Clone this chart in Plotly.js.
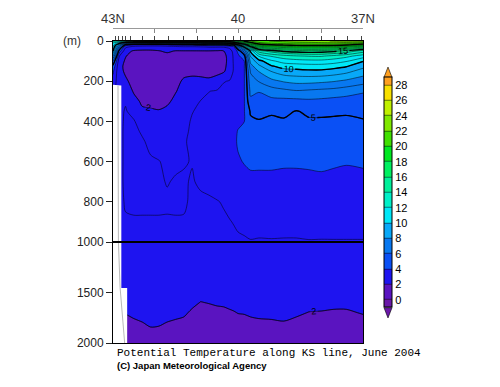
<!DOCTYPE html>
<html>
<head>
<meta charset="utf-8">
<script src="https://cdn.plot.ly/plotly-3.0.1.min.js"></script>
<style>html,body{margin:0;padding:0;background:#fff;}#chart{width:500px;height:387px;}</style>
</head>
<body>
<div id="chart"></div>
<script>
// ---- data ----
const lat = [43.0, 42.85, 42.7, 42.5, 42.3, 42.1, 41.9, 41.7, 41.5, 41.3, 41.1, 40.9, 40.7, 40.5, 40.35, 40.2, 40.1, 40.0, 39.85, 39.7, 39.5, 39.2, 38.9, 38.6, 38.3, 38.0, 37.7, 37.4, 37.0];
const depthUpper = [0, 10, 20, 30, 50, 75, 100, 125, 150, 200, 250, 300, 350, 400, 450, 500, 600, 700, 800, 900, 1000];
const depthLower = [1000, 1200, 1400, 1600, 1700, 1800, 1900, 2000];

const tempUpper = [
 [13.1,13.1,14.1,15.1,15.5,16.1,16.1,16.1,16.2,16.5,16.5,16.9,16.9,17.1,17.1,17.5,18.1,19.1,20.1,21.1,21.5,22.1,22.3,22.5,22.6,22.8,23.1,23.1,23.1],
 [12,10.5,8.1,7.1,7.05,7.5,7.5,8.1,8.5,9.1,9.1,9.5,10.1,10.1,10.2,11.1,13.1,15.1,17.1,19.5,20.8,21.2,21.4,21.6,21.7,21.8,21.8,21.6,21.1],
 [11.5,8.1,4.5,3.8,3.6,3.5,3.5,3.6,3.8,4.1,4.1,4.2,4.5,4.5,4.5,5.2,5.1,9.5,13.1,17.1,19.1,19.8,20.05,20.3,20.4,20.4,20.3,20.05,19.2],
 [11,6.5,3.2,2.6,2.5,2.5,2.5,2.6,2.7,2.8,2.8,2.9,3.05,3.05,3.05,3.3,3.8,6.5,10.1,14.5,17.1,18.1,18.4,18.7,18.8,18.8,18.6,18.1,17.1],
 [10.1,4.5,2.3,1.9,1.85,1.85,1.95,2.15,1.95,1.95,1.95,1.95,1.95,1.9,1.95,2.5,3.4,4.2,6.5,10.2,13.5,14.5,15.2,15.5,15.7,15.6,15.3,14.7,13.5],
 [8,3.05,2.05,1.6,1.5,1.55,1.6,1.7,1.7,1.7,1.7,1.7,1.7,1.65,1.75,2.3,3.2,3.8,4.6,9.1,11.1,12.1,12.6,12.9,13.05,13.1,12.7,12.3,11.5],
 [6,2.4,1.9,1.5,1.45,1.5,1.55,1.6,1.65,1.65,1.65,1.6,1.6,1.6,1.7,2.3,3.15,3.6,3.98,8.3,9.6,10.8,11.4,11.6,11.7,11.7,11.5,11.1,10.05],
 [4.8,2.2,1.85,1.5,1.45,1.5,1.6,1.7,1.7,1.7,1.7,1.65,1.65,1.65,1.75,2.35,3.1,3.55,3.95,7.6,8.8,9.9,10.4,10.5,10.6,10.6,10.4,10.1,9.3],
 [4.2,2.2,1.9,1.55,1.5,1.5,1.6,1.95,1.75,1.8,1.85,1.75,1.8,1.8,1.85,2.5,3.1,3.5,3.95,7.1,8.05,9.05,9.6,9.7,9.8,9.8,9.6,9.3,8.6],
 [3.6,2.4,2.1,1.8,1.6,1.6,1.6,1.65,1.8,2.1,2.15,2.2,2.1,2.3,2.95,3.05,3.3,3.6,3.95,6.6,7.05,7.7,8.1,8.3,8.3,8.2,8.05,7.8,7.4],
 [3.1,2.8,2.6,1.9,1.7,1.65,1.65,1.7,1.95,2.3,2.7,2.8,2.98,3.1,3.2,3.3,3.45,3.65,3.95,6.2,6.05,6.5,6.7,6.9,6.8,6.7,6.6,6.4,6.1],
 [2.9,2.85,2.95,2.3,1.85,1.8,1.75,1.85,2.2,2.6,2.9,3.01,3.15,3.25,3.35,3.45,3.55,3.7,3.95,5.8,5.6,5.7,5.7,5.7,5.8,5.75,5.65,5.6,5.55],
 [2.85,2.85,3.05,2.8,2.15,2.1,2.05,2.2,2.4,2.75,2.98,3.1,3.2,3.3,3.4,3.5,3.6,3.72,3.96,5.1,5.2,5.1,5.2,4.95,5.15,5.15,5.1,5.1,5.15],
 [2.85,2.85,3.08,3.05,2.7,2.5,2.4,2.45,2.55,2.85,3.05,3.15,3.25,3.3,3.4,3.55,3.65,3.8,3.98,4.85,4.95,4.85,4.9,4.8,4.9,4.9,4.9,4.85,4.95],
 [2.85,2.85,3.1,3.1,2.95,2.75,2.6,2.6,2.65,2.9,3.08,3.15,3.25,3.3,3.45,3.6,3.75,4.05,4.3,4.7,4.75,4.7,4.7,4.65,4.7,4.72,4.7,4.7,4.75],
 [2.85,2.85,3.1,3.15,3.05,2.9,2.75,2.7,2.75,2.95,3.1,3.15,3.25,3.3,3.45,3.6,3.8,4.1,4.4,4.55,4.6,4.55,4.5,4.5,4.55,4.55,4.55,4.5,4.55],
 [2.85,2.85,3.1,3.15,3.12,3.05,3.02,2.9,2.9,2.97,3.02,3.12,3.2,3.25,3.35,3.5,3.65,3.9,4.05,4.15,4.15,4.15,4.1,4.1,4.12,4.15,4.1,4.05,4.1],
 [2.85,2.85,3.1,3.15,3.12,3.1,3.08,2.97,3.05,3.05,2.96,3.08,3.12,3.2,3.25,3.35,3.45,3.6,3.7,3.8,3.8,3.8,3.8,3.8,3.82,3.85,3.8,3.78,3.8],
 [2.85,2.85,3.05,3.1,3.1,3.1,3.1,3.08,3.1,3.08,2.9,2.9,2.94,2.98,3.03,3.12,3.2,3.3,3.4,3.5,3.5,3.5,3.5,3.5,3.52,3.55,3.5,3.5,3.5],
 [2.85,2.85,2.95,2.95,2.95,2.95,2.95,2.95,2.95,2.95,2.9,2.88,2.9,2.92,2.94,2.98,3.02,3.08,3.15,3.2,3.2,3.2,3.2,3.2,3.22,3.25,3.2,3.2,3.2],
 [2.85,2.85,2.9,2.9,2.9,2.9,2.9,2.9,2.9,2.9,2.88,2.88,2.88,2.88,2.89,2.9,2.9,2.92,2.93,2.97,2.95,2.96,2.95,2.95,2.97,2.96,2.97,2.97,2.97]
];

const tempLower = [
 [2.9,2.9,2.9,2.9,2.9,2.9,2.9,2.9,2.9,2.9,2.88,2.88,2.88,2.88,2.89,2.9,2.9,2.92,2.93,2.95,2.95,2.95,2.95,2.95,2.95,2.95,2.95,2.95,2.95],
 [2.62,2.62,2.62,2.67,2.72,2.77,2.76,2.72,2.68,2.65,2.55,2.47,2.49,2.52,2.53,2.56,2.58,2.61,2.62,2.65,2.67,2.68,2.70,2.65,2.59,2.58,2.56,2.56,2.62],
 [2.38,2.38,2.38,2.43,2.48,2.53,2.52,2.48,2.44,2.41,2.31,2.23,2.25,2.28,2.29,2.32,2.34,2.37,2.38,2.41,2.43,2.44,2.46,2.41,2.35,2.34,2.32,2.32,2.38],
 [2.14,2.14,2.14,2.19,2.24,2.29,2.28,2.24,2.20,2.17,2.07,1.99,2.01,2.04,2.05,2.08,2.10,2.12,2.14,2.17,2.19,2.20,2.22,2.17,2.11,2.10,2.08,2.08,2.13],
 [2.02,2.02,2.02,2.07,2.12,2.17,2.16,2.12,2.08,2.05,1.95,1.89,1.91,1.92,1.93,1.96,1.98,2.01,2.02,2.05,2.07,2.08,2.10,2.05,1.99,1.98,1.96,1.96,2.02],
 [1.90,1.90,1.90,1.95,1.99,2.05,2.04,1.99,1.96,1.93,1.83,1.77,1.79,1.80,1.81,1.84,1.86,1.89,1.90,1.93,1.95,1.96,1.98,1.93,1.87,1.86,1.84,1.84,1.90],
 [1.78,1.78,1.78,1.83,1.88,1.93,1.92,1.88,1.84,1.81,1.71,1.65,1.67,1.68,1.69,1.72,1.74,1.77,1.78,1.81,1.83,1.84,1.86,1.81,1.75,1.74,1.72,1.72,1.78],
 [1.66,1.66,1.66,1.71,1.76,1.81,1.80,1.76,1.72,1.69,1.59,1.53,1.55,1.56,1.57,1.60,1.62,1.65,1.66,1.69,1.71,1.72,1.74,1.69,1.63,1.62,1.60,1.60,1.66]
];

// observation stations (top tick marks)
const stations = [42.95, 42.86, 42.78, 42.69, 42.57, 42.3, 42.0, 41.66, 41.32, 40.98, 40.62, 40.31, 40.12, 39.95, 39.67, 39.31, 39.0, 38.69, 38.35, 38.0, 37.68, 37.37, 37.03];
const latTicks = [43, 42, 41, 40, 39, 38, 37];
const latTickText = ['43N', '', '', '40', '', '', '37N'];
const depthTicksUpper = [0, 200, 400, 600, 800];
const depthTicksLower = [1000, 1500, 2000];
const cbTicks = [0, 2, 4, 6, 8, 10, 12, 14, 16, 18, 20, 22, 24, 26, 28];
// no-data area (below the shelf at the northern end) and bottom line
const maskUpperLat = [43.0, 42.8, 42.8, 43.0];
const maskUpperDepth = [218, 222, 1000, 1000];
const maskLowerLat = [43.0, 42.8, 42.8, 42.66, 42.66, 43.0];
const maskLowerDepth = [1000, 1000, 1455, 1455, 2000, 2000];
const bottomLatUpper = [42.88, 42.87];
const bottomDepthUpper = [222, 1000];
const bottomLatLower = [42.87, 42.83, 42.72];
const bottomDepthLower = [1000, 1450, 2000];

// band colours: 0-2, 2-4, ... 26-28; plus the colours of the two end arrows
const bandColors = ['#5a14c0','#1e14f0','#0a50f5','#0878f0','#08a8f8','#00e8f8','#00f0c8','#00f09a','#00f060','#00e820','#40e000','#80e800','#c0f000','#f8e000'];
const belowColor = '#6a18a8';
const aboveColor = '#ffa020';

// ---- build ----
const scaleColors = [belowColor].concat(bandColors, [aboveColor]);
const colorscale = scaleColors.map((c, i) => [i / (scaleColors.length - 1), c]);
const fillContours = {start: 0, end: 28, size: 2, coloring: 'fill', showlines: true};
const lineStyle = {color: 'black', width: 0.5, smoothing: 0.8};
const labelFont = {size: 9, color: 'black', family: 'Liberation Sans, Arial'};

function sectionTraces(z, depth, xa, ya, withBar, labelMajor) {
  const t = [];
  t.push({
    type: 'contour', x: lat, y: depth, z: z, xaxis: xa, yaxis: ya,
    autocontour: false, contours: fillContours, colorscale: colorscale,
    line: lineStyle, showscale: withBar, hoverinfo: 'skip',
    colorbar: withBar ? {
      x: 1.084, xanchor: 'left', xpad: 0, y: 0.4778, yanchor: 'middle', ypad: 0,
      lenmode: 'pixels', len: 230.4, thickness: 8, outlinewidth: 1, outlinecolor: 'black',
      tickmode: 'array', tickvals: cbTicks, ticks: '', ticklen: 0,
      tickfont: {size: 11, color: 'black', family: 'Liberation Sans, Arial'}
    } : undefined
  });
  t.push({
    type: 'contour', x: lat, y: depth, z: z, xaxis: xa, yaxis: ya,
    autocontour: false, contours: {start: 1, end: 27, size: 2, coloring: 'none'},
    line: lineStyle, showscale: false, hoverinfo: 'skip'
  });
  t.push({
    type: 'contour', x: lat, y: depth, z: z, xaxis: xa, yaxis: ya,
    autocontour: false, contours: {start: 2, end: 2, size: 1, coloring: 'none', showlabels: true, labelfont: labelFont},
    line: lineStyle, showscale: false, hoverinfo: 'skip'
  });
  if (labelMajor) {
    t.push({
      type: 'contour', x: lat, y: depth, z: z, xaxis: xa, yaxis: ya,
      autocontour: false, contours: {start: 5, end: 20, size: 5, coloring: 'none', showlabels: true, labelfont: labelFont},
      line: {color: 'black', width: 1.4, smoothing: 0.8}, showscale: false, hoverinfo: 'skip'
    });
  }
  return t;
}

const traces = [].concat(
  sectionTraces(tempUpper, depthUpper, 'x', 'y', true, true),
  sectionTraces(tempLower, depthLower, 'x2', 'y2', false, false),
  [
    {type: 'scatter', x: maskUpperLat, y: maskUpperDepth, xaxis: 'x', yaxis: 'y', mode: 'lines', fill: 'toself', fillcolor: 'white', line: {width: 0}, hoverinfo: 'skip', showlegend: false},
    {type: 'scatter', x: maskLowerLat, y: maskLowerDepth, xaxis: 'x2', yaxis: 'y2', mode: 'lines', fill: 'toself', fillcolor: 'white', line: {width: 0}, hoverinfo: 'skip', showlegend: false},
    {type: 'scatter', x: bottomLatUpper, y: bottomDepthUpper, xaxis: 'x', yaxis: 'y', mode: 'lines', line: {color: '#999', width: 0.7}, hoverinfo: 'skip', showlegend: false},
    {type: 'scatter', x: bottomLatLower, y: bottomDepthLower, xaxis: 'x2', yaxis: 'y2', mode: 'lines', line: {color: '#999', width: 0.7}, hoverinfo: 'skip', showlegend: false},
    {type: 'scatter', x: [latTicks[0], latTicks[latTicks.length - 1]], y: [0, 0], xaxis: 'x3', yaxis: 'y', mode: 'none', hoverinfo: 'skip', showlegend: false}
  ]
);

const splitFrac = 101 / 315;
const topFrac = 302 / 315;
const axFont = {size: 12, color: '#222', family: 'Liberation Sans, Arial'};
// colour bar arrow geometry (paper units)
const cbX0 = 1.084, cbX1 = 1.116, cbXm = 1.1;

const layout = {
  width: 500, height: 387,
  margin: {l: 113, r: 137, t: 28, b: 44, pad: 0},
  paper_bgcolor: 'white', plot_bgcolor: 'white',
  showlegend: false,
  font: {family: 'Liberation Sans, Arial', color: '#222'},
  xaxis: {domain: [0, 1], range: [43, 37], anchor: 'y', side: 'top',
    tickmode: 'array', tickvals: stations, showticklabels: false,
    ticks: 'outside', ticklen: 4, tickcolor: '#444', tickwidth: 1,
    showline: true, mirror: true, linecolor: 'black', linewidth: 1,
    showgrid: false, zeroline: false},
  yaxis: {domain: [splitFrac, topFrac], range: [1000, 0], anchor: 'x',
    tickmode: 'array', tickvals: depthTicksUpper, ticks: 'outside', ticklen: 6, tickcolor: '#222',
    tickfont: axFont, showline: true, mirror: true, linecolor: 'black', linewidth: 1,
    showgrid: true, gridcolor: 'rgba(255,255,255,0.55)', griddash: 'dot', gridwidth: 1, zeroline: false},
  xaxis2: {domain: [0, 1], range: [43, 37], anchor: 'y2', showticklabels: false, ticks: '',
    showline: true, mirror: true, linecolor: 'black', linewidth: 1, showgrid: false, zeroline: false},
  yaxis2: {domain: [0, splitFrac], range: [2000, 1000], anchor: 'x2',
    tickmode: 'array', tickvals: depthTicksLower, ticks: 'outside', ticklen: 6, tickcolor: '#222',
    tickfont: axFont, showline: true, mirror: true, linecolor: 'black', linewidth: 1,
    showgrid: true, gridcolor: 'rgba(255,255,255,0.55)', griddash: 'dot', gridwidth: 1, zeroline: false},
  xaxis3: {overlaying: 'x', anchor: 'free', position: 1, side: 'top', range: [43, 37],
    tickmode: 'array', tickvals: latTicks, ticktext: latTickText, ticks: 'inside', ticklen: 4,
    tickcolor: '#888', showline: true, linecolor: '#999', linewidth: 1, showgrid: false, zeroline: false,
    tickfont: {size: 13, color: '#333', family: 'Liberation Sans, Arial'}},
  shapes: [
    {type: 'line', xref: 'paper', x0: 0, x1: 1, yref: 'y2', y0: 1000, y1: 1000, line: {color: 'black', width: 2}},
    {type: 'path', xref: 'paper', yref: 'paper', path: `M ${cbX0} 0.8435 L ${cbX1} 0.8435 L ${cbXm} 0.876 Z`, fillcolor: aboveColor, line: {color: 'black', width: 0.6}},
    {type: 'path', xref: 'paper', yref: 'paper', path: `M ${cbX0} 0.1121 L ${cbX1} 0.1121 L ${cbXm} 0.0795 Z`, fillcolor: belowColor, line: {color: 'black', width: 0.6}}
  ],
  annotations: [
    {xref: 'paper', yref: 'paper', x: -0.164, y: topFrac, text: '(m)', showarrow: false, xanchor: 'center', yanchor: 'middle', font: {size: 12, color: '#333'}},
    {xref: 'paper', yref: 'paper', x: 0.008, y: -0.032, text: 'Potential Temperature along KS line, June 2004', showarrow: false, xanchor: 'left', yanchor: 'middle', font: {size: 11, color: 'black', family: 'Liberation Mono, DejaVu Sans Mono, monospace'}},
    {xref: 'paper', yref: 'paper', x: 0.008, y: -0.073, text: '<b>(C) Japan Meteorological Agency</b>', showarrow: false, xanchor: 'left', yanchor: 'middle', font: {size: 9.5, color: 'black', family: 'Liberation Sans, Arial'}}
  ]
};

Plotly.newPlot('chart', traces, layout, {displayModeBar: false, staticPlot: true});
</script>
</body>
</html>
